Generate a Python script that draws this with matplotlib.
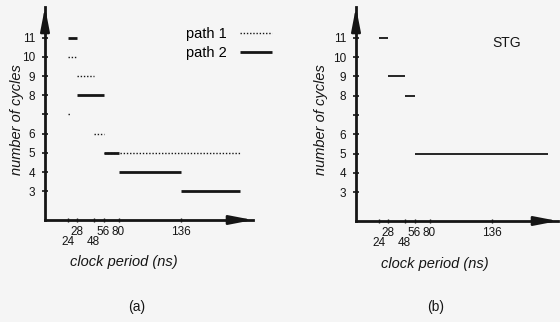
import matplotlib
matplotlib.use('Agg')
import matplotlib.pyplot as plt
import numpy as np

plt.rcParams['font.family'] = ['Liberation Sans', 'DejaVu Sans']

# segments: clock period start / end (ns) and number of cycles
path1_start = [24, 28, 24, 48, 56]
path1_end = [28, 48, 25.5, 56, 195]
path1_cycles = [10, 9, 7, 6, 5]

path2_start = [24, 28, 56, 80, 136]
path2_end = [28, 56, 80, 136, 195]
path2_cycles = [11, 8, 5, 4, 3]

stg_start = [24, 28, 48, 56]
stg_end = [28, 48, 56, 192]
stg_cycles = [11, 9, 8, 5]

upper_ticks = [28, 56, 80, 136]
lower_ticks = [24, 48]
cycle_ticks = [3, 4, 5, 6, 7, 8, 9, 10, 11]
cycle_labels = ['3', '4', '5', '6', '', '8', '9', '10', '11']

# the original axis is hand drawn, ticks are not evenly spaced
scale_ns = [0, 24, 28, 48, 56, 80, 136, 400]
scale_pos = [0, 23, 31.5, 48.5, 58.5, 73.5, 136, 400]


def fwd(x):
    return np.interp(x, scale_ns, scale_pos)


def inv(x):
    return np.interp(x, scale_pos, scale_ns)


ink = '#151515'
bg = '#f5f5f5'

fig = plt.figure(figsize=(5.6, 3.22), dpi=100, facecolor=bg)
ax_a = fig.add_axes([45/560, 1-220/322, 208/560, 213/322])
ax_b = fig.add_axes([356/560, 1-221/322, 202/560, 214/322])


def setup(ax, xmax):
    ax.set_xscale('function', functions=(fwd, inv))
    ax.set_xlim(0, xmax)
    ax.set_ylim(1.5, 12.6)
    ax.set_facecolor('none')
    for s in ['top', 'right']:
        ax.spines[s].set_visible(False)
    for s in ['left', 'bottom']:
        ax.spines[s].set_linewidth(2)
        ax.spines[s].set_color(ink)
    ax.set_xticks(upper_ticks, [str(t) for t in upper_ticks])
    ax.set_xticks(lower_ticks, [str(t) for t in lower_ticks], minor=True)
    ax.set_yticks(cycle_ticks, cycle_labels)
    ax.tick_params(axis='x', which='both', direction='inout', length=3, width=1,
                   labelsize=8.5, pad=3, colors=ink)
    ax.tick_params(axis='x', which='minor', pad=10)
    ax.tick_params(axis='y', direction='inout', length=4.5, width=1.2,
                   labelsize=8.5, pad=5, colors=ink)
    arrow = dict(arrowstyle='-|>,head_length=1.4,head_width=0.27', color=ink,
                 lw=1.8, shrinkA=0, shrinkB=0, mutation_scale=10)
    ax.annotate('', xy=(1, 0), xytext=(0.9, 0), xycoords='axes fraction', arrowprops=arrow)
    ax.annotate('', xy=(0, 1), xytext=(0, 0.9), xycoords='axes fraction', arrowprops=arrow)


setup(ax_a, 208)
setup(ax_b, 202)

# (a) path 1 and path 2
for i in range(len(path1_start)):
    ax_a.plot([path1_start[i], path1_end[i]], [path1_cycles[i]] * 2, color=ink, lw=1,
              linestyle=(0, (1, 1.3)), label='path 1' if i == 0 else None)
for i in range(len(path2_start)):
    ax_a.plot([path2_start[i], path2_end[i]], [path2_cycles[i]] * 2, color=ink, lw=2,
              solid_capstyle='butt', label='path 2' if i == 0 else None)

ax_a.legend(loc='upper right', bbox_to_anchor=(272/560, 1-27/322), bbox_transform=fig.transFigure,
            frameon=False, markerfirst=False, fontsize=10.5, handlelength=2.2,
            handletextpad=0.9, labelspacing=0.37, borderpad=0, borderaxespad=0)

# (b) STG
for i in range(len(stg_start)):
    ax_b.plot([stg_start[i], stg_end[i]], [stg_cycles[i]] * 2, color=ink, lw=1.3,
              solid_capstyle='butt')

fig.text(507/560, 1-43/322, 'STG', ha='center', va='center', fontsize=10, color=ink)

for xc, yl, xl, pl, lab in [(17, 124, 262, 137, '(a)'), (321, 435, 264, 436, '(b)')]:
    fig.text(xc/560, 1-120/322, 'number of cycles', rotation=90, ha='center', va='center',
             fontsize=10.5, style='italic', color=ink)
    fig.text(yl/560, 1-xl/322, 'clock period (ns)', ha='center', va='center',
             fontsize=10.5, style='italic', color=ink)
    fig.text(pl/560, 1-307/322, lab, ha='center', va='center', fontsize=10, color=ink)

fig.savefig('out.png', dpi=100, facecolor=bg)
